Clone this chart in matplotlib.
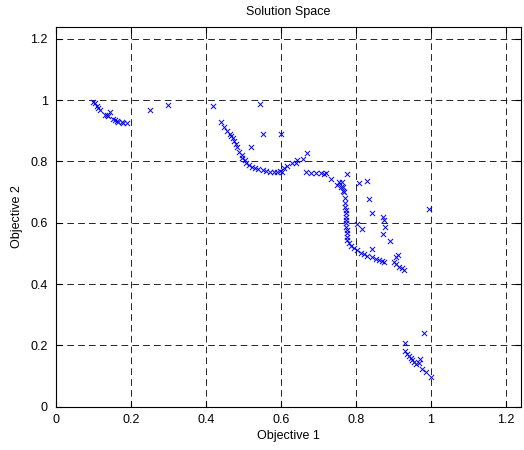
import matplotlib
matplotlib.use("Agg")
import matplotlib.pyplot as plt

# objective values, in groups along the front
obj1_a = [0.098, 0.104, 0.109, 0.112, 0.117, 0.130, 0.136, 0.144, 0.138, 0.152,
          0.157, 0.162, 0.165, 0.176, 0.178, 0.189, 0.250, 0.298]
obj2_a = [0.995, 0.991, 0.982, 0.975, 0.969, 0.953, 0.950, 0.962, 0.947, 0.940,
          0.936, 0.933, 0.930, 0.930, 0.927, 0.927, 0.969, 0.985]

obj1_b = [0.418, 0.439, 0.449, 0.457, 0.463, 0.468, 0.471, 0.476, 0.481, 0.484,
          0.489, 0.495, 0.497, 0.503, 0.508, 0.516, 0.524, 0.532, 0.540, 0.551,
          0.561, 0.572, 0.582, 0.590, 0.598, 0.604, 0.609, 0.617, 0.630, 0.641,
          0.644, 0.660, 0.670, 0.668, 0.681, 0.694, 0.707, 0.715, 0.721, 0.734,
          0.750, 0.755, 0.761, 0.766, 0.543, 0.551, 0.601, 0.519]
obj2_b = [0.982, 0.930, 0.914, 0.900, 0.891, 0.884, 0.878, 0.868, 0.858, 0.848,
          0.832, 0.822, 0.812, 0.806, 0.796, 0.790, 0.783, 0.780, 0.777, 0.773,
          0.770, 0.767, 0.767, 0.767, 0.770, 0.767, 0.780, 0.786, 0.796, 0.796,
          0.806, 0.809, 0.829, 0.767, 0.763, 0.763, 0.763, 0.760, 0.763, 0.744,
          0.724, 0.734, 0.718, 0.705, 0.989, 0.891, 0.891, 0.848]

obj1_c = [0.763, 0.766, 0.769, 0.771, 0.771, 0.771, 0.774, 0.774, 0.774, 0.774,
          0.774, 0.774, 0.777, 0.777, 0.777, 0.777, 0.782, 0.787, 0.795, 0.803,
          0.814, 0.822, 0.830, 0.843, 0.854, 0.862, 0.870, 0.875, 0.902, 0.907,
          0.915, 0.923, 0.928, 0.777, 0.809, 0.830, 0.835, 0.843, 0.872, 0.875,
          0.878, 0.872, 0.891, 0.843, 0.803, 0.816, 0.907, 0.912, 0.995]
obj2_c = [0.734, 0.718, 0.701, 0.682, 0.666, 0.653, 0.643, 0.633, 0.620, 0.610,
          0.600, 0.587, 0.577, 0.568, 0.555, 0.545, 0.535, 0.525, 0.519, 0.512,
          0.502, 0.499, 0.493, 0.489, 0.483, 0.480, 0.476, 0.473, 0.473, 0.467,
          0.457, 0.454, 0.447, 0.760, 0.731, 0.737, 0.679, 0.633, 0.620, 0.610,
          0.587, 0.564, 0.542, 0.515, 0.597, 0.581, 0.489, 0.496, 0.646]

obj1_d = [0.981, 0.931, 0.931, 0.936, 0.941, 0.947, 0.949, 0.955, 0.960, 0.971,
          0.968, 0.976, 0.987, 1.000]
obj2_d = [0.241, 0.209, 0.183, 0.173, 0.166, 0.160, 0.153, 0.147, 0.140, 0.157,
          0.144, 0.124, 0.114, 0.098]

ticks = [0, 0.2, 0.4, 0.6, 0.8, 1, 1.2]
tick_labels = ["0", "0.2", "0.4", "0.6", "0.8", "1", "1.2"]

plt.rcParams["font.family"] = ["Liberation Sans", "DejaVu Sans"]

fig = plt.figure(figsize=(5.24, 4.5), dpi=100)
ax = fig.add_axes([0.107, 0.096, 0.887, 0.845])

x_all = obj1_a + obj1_b + obj1_c + obj1_d
y_all = obj2_a + obj2_b + obj2_c + obj2_d
ax.scatter(x_all, y_all, marker="x", color="#0000ff", s=14, linewidths=0.7, zorder=3)

ax.set_xlim(0, 1.24)
ax.set_ylim(0, 1.24)
ax.set_xticks(ticks)
ax.set_xticklabels(tick_labels)
ax.set_yticks(ticks)
ax.set_yticklabels(tick_labels)

# dashed black grid, ticks pointing in like the original
ax.grid(True, color="black", linestyle=(0, (8, 5)), linewidth=0.6)
ax.tick_params(direction="in", length=4, labelsize=9, top=True, right=True)
ax.tick_params(axis="x", pad=5)
ax.tick_params(axis="y", pad=6)
for spine in ax.spines.values():
    spine.set_linewidth(0.8)

ax.set_title("Solution Space", fontsize=9, pad=8)
ax.set_xlabel("Objective 1", fontsize=9, labelpad=3)
ax.set_ylabel("Objective 2", fontsize=9, labelpad=5)

plt.savefig("out.png", dpi=100)
plt.close(fig)
